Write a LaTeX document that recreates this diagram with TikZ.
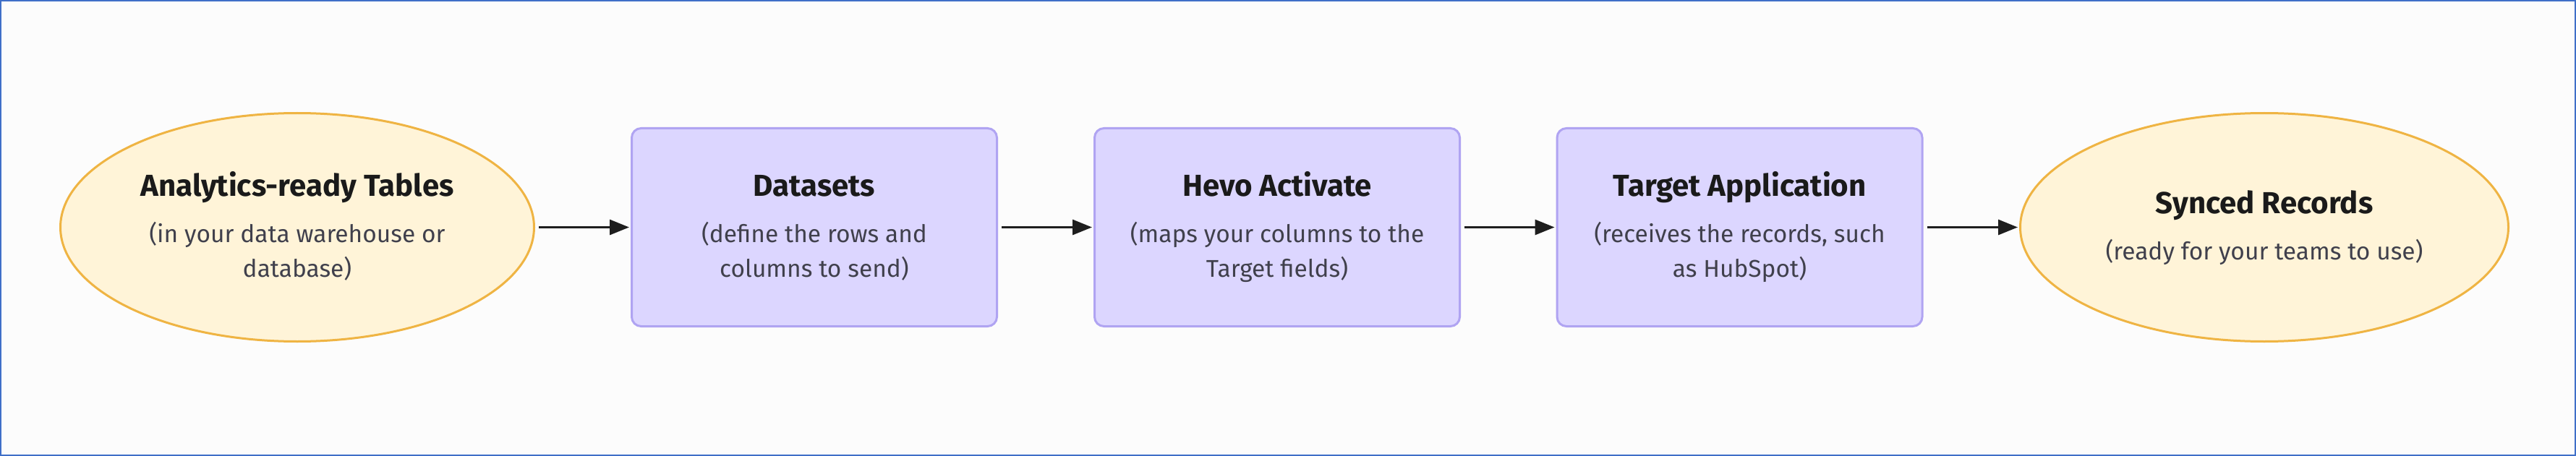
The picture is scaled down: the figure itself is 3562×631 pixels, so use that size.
\documentclass[tikz,border=0pt]{standalone}
\usepackage{fontspec}
\setmainfont{Fira Sans}
\usetikzlibrary{shapes.geometric,arrows.meta,calc}
\definecolor{bgc}{HTML}{FCFCFC}
\definecolor{framec}{HTML}{3F6FC8}
\definecolor{ellfill}{HTML}{FFF4D8}
\definecolor{elldraw}{HTML}{EFB443}
\definecolor{boxfill}{HTML}{DCD6FF}
\definecolor{boxdraw}{HTML}{B0A4F2}
\definecolor{ttlc}{HTML}{1A1A1A}
\definecolor{subc}{HTML}{40404C}
\definecolor{arrc}{HTML}{1E1E1E}
\tikzset{
  ellnode/.style={ellipse, draw=elldraw, fill=ellfill, line width=3pt, inner sep=0pt},
  boxnode/.style={rectangle, rounded corners=13pt, draw=boxdraw, fill=boxfill, line width=3pt, inner sep=0pt, minimum width=505pt, minimum height=274pt},
  ttl/.style={anchor=base, inner sep=0pt, text=ttlc, font=\fontsize{42}{50}\selectfont\bfseries},
  sub/.style={anchor=base, inner sep=0pt, text=subc, font=\fontsize{33.5}{46}\selectfont},
  flow/.style={draw=arrc, line width=3pt, -{Triangle[length=27pt,width=21pt]}, shorten <=5pt, shorten >=2pt}
}
\begin{document}
\begin{tikzpicture}[x=1pt,y=1pt]
\useasboundingbox (0,0) rectangle (3562,-631);
\fill[bgc] (0,0) rectangle (3562,-631);
\draw[framec, line width=2pt] (1,-1) rectangle (3561,-630);

\node[ellnode, minimum width=655pt, minimum height=316pt] (a) at (411,-314.5) {};
\node[boxnode] (b) at (1126,-314.5) {};
\node[boxnode] (c) at (1766,-314.5) {};
\node[boxnode] (d) at (2405.5,-314.5) {};
\node[ellnode, minimum width=675pt, minimum height=316pt] (e) at (3131,-314.5) {};

\node[ttl] (at) at ($(a.center)+(0,43)$) {Analytics-ready Tables};
\node[sub] (as1) at ($(a.center)+(0,-21)$) {(in your data warehouse or};
\node[sub] (as2) at ($(a.center)+(0,-68.5)$) {database)};

\node[ttl] (bt) at ($(b.center)+(0,43)$) {Datasets};
\node[sub] (bs1) at ($(b.center)+(0,-21)$) {(define the rows and};
\node[sub] (bs2) at ($(b.center)+(0,-68.5)$) {columns to send)};

\node[ttl] (ct) at ($(c.center)+(0,43)$) {Hevo Activate};
\node[sub] (cs1) at ($(c.center)+(0,-21)$) {(maps your columns to the};
\node[sub] (cs2) at ($(c.center)+(0,-68.5)$) {Target fields)};

\node[ttl] (dt) at ($(d.center)+(0,43)$) {Target Application};
\node[sub] (ds1) at ($(d.center)+(0,-21)$) {(receives the records, such};
\node[sub] (ds2) at ($(d.center)+(0,-68.5)$) {as HubSpot)};

\node[ttl] (et) at ($(e.center)+(0,19.5)$) {Synced Records};
\node[sub] (es1) at ($(e.center)+(0,-45)$) {(ready for your teams to use)};

\draw[flow] (a.east) -- (b.west);
\draw[flow] (b.east) -- (c.west);
\draw[flow] (c.east) -- (d.west);
\draw[flow] (d.east) -- (e.west);
\end{tikzpicture}
\end{document}
